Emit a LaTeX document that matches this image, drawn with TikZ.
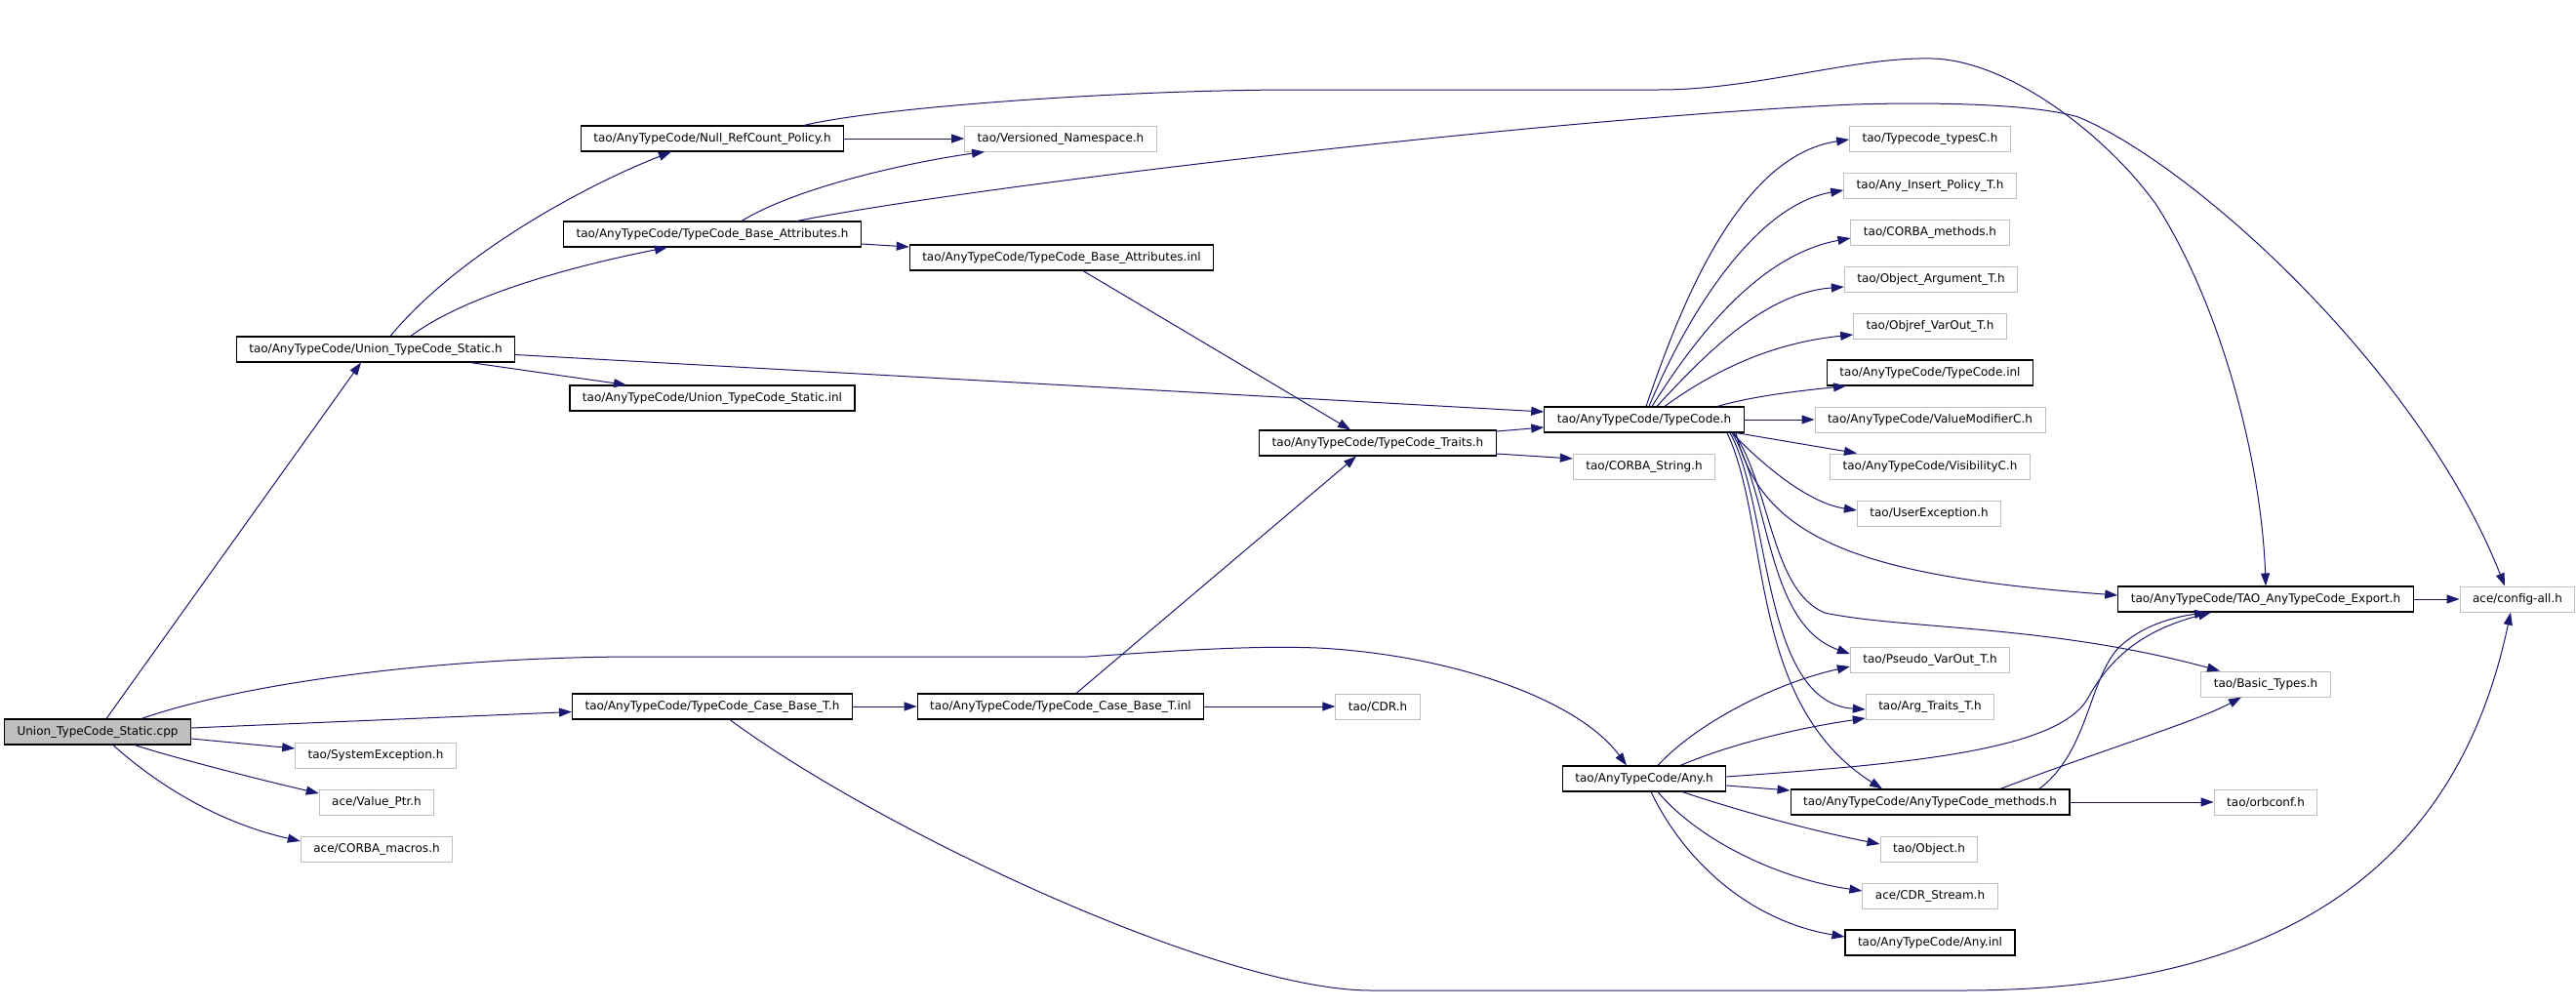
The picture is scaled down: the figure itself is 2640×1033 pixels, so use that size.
\documentclass[tikz,border=0pt]{standalone}
\usepackage{fontspec}
\setmainfont{DejaVu Sans}
\usetikzlibrary{arrows.meta}
\definecolor{edgeblue}{HTML}{191970}
\definecolor{graybox}{HTML}{BFBFBF}
\begin{document}
\begin{tikzpicture}[x=1pt,y=-1pt,
  every node/.style={font=\fontsize{12}{13}\selectfont},
  doc/.style={draw=black,line width=1.1pt,rectangle,minimum height=26pt,inner xsep=13pt,inner ysep=0pt,fill=white},
  undoc/.style={doc,draw=graybox,line width=1pt},
  root/.style={doc,fill=graybox},
  dep/.style={draw=edgeblue,line width=1pt,-{Triangle[length=13pt,width=9pt]}}]
\useasboundingbox[fill=white] (0,0) rectangle (2640,1033);

% nodes
\node[root]  (cpp)         at (100,750) {Union\_TypeCode\_Static.cpp};
\node[doc]   (unionh)      at (385,358) {tao/AnyTypeCode/Union\_TypeCode\_Static.h};
\node[doc]   (nullrc)      at (730,142) {tao/AnyTypeCode/Null\_RefCount\_Policy.h};
\node[doc]   (baseattr)    at (730,240) {tao/AnyTypeCode/TypeCode\_Base\_Attributes.h};
\node[doc]   (unioninl)    at (730,408) {tao/AnyTypeCode/Union\_TypeCode\_Static.inl};
\node[doc]   (casebase)    at (730,724) {tao/AnyTypeCode/TypeCode\_Case\_Base\_T.h};
\node[undoc] (sysexc)      at (385,774) {tao/SystemException.h};
\node[undoc] (valueptr)    at (386,822) {ace/Value\_Ptr.h};
\node[undoc] (corbamacros) at (386,870) {ace/CORBA\_macros.h};
\node[undoc] (versioned)   at (1087,142) {tao/Versioned\_Namespace.h};
\node[doc]   (baseattrinl) at (1088,264) {tao/AnyTypeCode/TypeCode\_Base\_Attributes.inl};
\node[doc]   (casebaseinl) at (1087,724) {tao/AnyTypeCode/TypeCode\_Case\_Base\_T.inl};
\node[doc]   (traits)      at (1412,454) {tao/AnyTypeCode/TypeCode\_Traits.h};
\node[undoc] (cdr)         at (1412,724) {tao/CDR.h};
\node[doc]   (typecode)    at (1685,430) {tao/AnyTypeCode/TypeCode.h};
\node[undoc] (corbastring) at (1685,478) {tao/CORBA\_String.h};
\node[doc]   (anyh)        at (1685,798) {tao/AnyTypeCode/Any.h};
\node[undoc] (typesC)      at (1978,142) {tao/Typecode\_typesC.h};
\node[undoc] (anyinsert)   at (1978,190) {tao/Any\_Insert\_Policy\_T.h};
\node[undoc] (corbamethods) at (1978,238) {tao/CORBA\_methods.h};
\node[undoc] (objarg)      at (1979,286) {tao/Object\_Argument\_T.h};
\node[undoc] (objref)      at (1978,334) {tao/Objref\_VarOut\_T.h};
\node[doc]   (tcinl)       at (1978,382) {tao/AnyTypeCode/TypeCode.inl};
\node[undoc] (valuemod)    at (1978,430) {tao/AnyTypeCode/ValueModifierC.h};
\node[undoc] (visib)       at (1978,478) {tao/AnyTypeCode/VisibilityC.h};
\node[undoc] (userexc)     at (1977,526) {tao/UserException.h};
\node[undoc] (pseudo)      at (1978,676) {tao/Pseudo\_VarOut\_T.h};
\node[undoc] (argtraits)   at (1978,724) {tao/Arg\_Traits\_T.h};
\node[doc]   (methods)     at (1978,822) {tao/AnyTypeCode/AnyTypeCode\_methods.h};
\node[undoc] (objecth)     at (1977,870) {tao/Object.h};
\node[undoc] (cdrstream)   at (1978,918) {ace/CDR\_Stream.h};
\node[doc]   (anyinl)      at (1978,966) {tao/AnyTypeCode/Any.inl};
\node[doc]   (export)      at (2322,614) {tao/AnyTypeCode/TAO\_AnyTypeCode\_Export.h};
\node[undoc] (basictypes)  at (2322,701) {tao/Basic\_Types.h};
\node[undoc] (orbconf)     at (2322,822) {tao/orbconf.h};
\node[undoc] (configall)   at (2580,614) {ace/config-all.h};

% edges from the .cpp
\draw[dep] ([xshift=9pt]cpp.north) -- ([xshift=-15pt]unionh.south);
\draw[dep] ([yshift=4pt]cpp.east) -- ([yshift=-5.5pt]casebase.west);
\draw[dep] ([yshift=-7pt]cpp.east) -- ([yshift=7pt]sysexc.west);
\draw[dep] ([xshift=38pt]cpp.south) .. controls (180,777) and (270,800) .. ([yshift=9pt]valueptr.west);
\draw[dep] ([xshift=16pt]cpp.south) .. controls (145,790) and (210,840) .. ([yshift=8pt]corbamacros.west);
\draw[dep] ([xshift=45pt]cpp.north) .. controls (250,700) and (450,673) .. (656,673) -- (1114,673)
   .. controls (1200,667) and (1300,660) .. (1367,665) .. controls (1500,675) and (1620,720) .. ([xshift=-18pt]anyh.north);

% Union_TypeCode_Static.h
\draw[dep] ([xshift=15pt]unionh.north) .. controls (470,260) and (600,190) .. ([xshift=-42pt]nullrc.south);
\draw[dep] ([xshift=36pt]unionh.north) .. controls (480,300) and (600,270) .. ([xshift=-46pt]baseattr.south);
\draw[dep] ([xshift=97pt]unionh.south) -- ([xshift=-88pt]unioninl.north);
\draw[dep] ([yshift=-5.5pt]unionh.east) -- ([yshift=8pt]typecode.west);

% Null_RefCount_Policy.h
\draw[dep] (nullrc.east) -- (versioned.west);
\draw[dep] ([xshift=94pt]nullrc.north) .. controls (900,110) and (1150,92) .. (1330,92) -- (1700,92)
   .. controls (1800,92) and (1900,58) .. (1980,60) .. controls (2060,62) and (2160,140) .. (2210,210)
   .. controls (2280,320) and (2318,480) .. (export.north);

% TypeCode_Base_Attributes.h
\draw[dep] ([xshift=30pt]baseattr.north) .. controls (820,190) and (940,165) .. ([xshift=-78pt]versioned.south);
\draw[dep] ([xshift=87pt]baseattr.north) .. controls (1000,190) and (1600,120) .. (1900,107)
   .. controls (2000,104) and (2090,108) .. (2130,120) .. controls (2250,170) and (2480,380) .. ([xshift=-13pt]configall.north);
\draw[dep] ([yshift=-10pt]baseattr.east) -- ([yshift=11pt]baseattrinl.west);
\draw[dep] ([xshift=22pt]baseattrinl.south) -- ([xshift=-28pt]traits.north);

% TypeCode_Case_Base_T.h
\draw[dep] (casebase.east) -- (casebaseinl.west);
\draw[dep] ([xshift=18pt]casebase.south) .. controls (900,850) and (1250,1015) .. (1405,1015) -- (2011,1015)
   .. controls (2350,1015) and (2520,880) .. ([xshift=-7pt]configall.south);
\draw[dep] ([xshift=16pt]casebaseinl.north) -- ([xshift=-22pt]traits.south);
\draw[dep] (casebaseinl.east) -- (cdr.west);

% TypeCode_Traits.h
\draw[dep] ([yshift=12pt]traits.east) -- ([yshift=-8pt]typecode.west);
\draw[dep] ([yshift=-11pt]traits.east) -- ([yshift=8pt]corbastring.west);

% TypeCode.h
\draw[dep] ([xshift=2pt]typecode.north) .. controls (1720,320) and (1780,160) .. ([yshift=-1pt]typesC.west);
\draw[dep] ([xshift=5pt]typecode.north) .. controls (1730,320) and (1800,210) .. ([yshift=-5pt]anyinsert.west);
\draw[dep] ([xshift=8pt]typecode.north) .. controls (1735,350) and (1800,262) .. ([yshift=-6pt]corbamethods.west);
\draw[dep] ([xshift=13pt]typecode.north) .. controls (1750,360) and (1810,300) .. ([yshift=-8pt]objarg.west);
\draw[dep] ([xshift=21pt]typecode.north) .. controls (1770,370) and (1830,350) .. ([yshift=-9pt]objref.west);
\draw[dep] ([xshift=75pt]typecode.north) .. controls (1800,405) and (1850,400) .. ([xshift=-86pt]tcinl.south);
\draw[dep] (typecode.east) -- (valuemod.west);
\draw[dep] ([xshift=94pt]typecode.south) -- ([xshift=-75pt]visib.north);
\draw[dep] ([xshift=90pt]typecode.south) .. controls (1800,470) and (1850,515) .. ([yshift=3pt]userexc.west);
\draw[dep] ([xshift=94pt]typecode.south) .. controls (1805,550) and (1900,590) .. ([yshift=4pt]export.west);
\draw[dep] ([xshift=92pt]typecode.south) .. controls (1815,500) and (1815,605) .. (1870,628)
   .. controls (1950,645) and (2100,640) .. ([xshift=-47pt]basictypes.north);
\draw[dep] ([xshift=90pt]typecode.south) .. controls (1815,510) and (1810,640) .. ([yshift=6pt]pseudo.west);
\draw[dep] ([xshift=88pt]typecode.south) .. controls (1815,520) and (1805,720) .. ([yshift=-3pt]argtraits.west);
\draw[dep] ([xshift=85pt]typecode.south) .. controls (1815,540) and (1790,720) .. ([xshift=-49pt]methods.north);

% Any.h
\draw[dep] ([xshift=14pt]anyh.north) .. controls (1740,740) and (1820,700) .. ([yshift=-7pt]pseudo.west);
\draw[dep] ([xshift=37pt]anyh.north) .. controls (1780,760) and (1850,745) .. ([yshift=-12pt]argtraits.west);
\draw[dep] ([yshift=2pt]anyh.east) .. controls (1950,783) and (2110,770) .. (2140,715)
   .. controls (2165,670) and (2200,645) .. ([xshift=-56pt]export.south);
\draw[dep] ([yshift=-7pt]anyh.east) -- ([yshift=12pt]methods.west);
\draw[dep] ([xshift=39pt]anyh.south) .. controls (1780,830) and (1850,850) .. ([yshift=5pt]objecth.west);
\draw[dep] ([xshift=14pt]anyh.south) .. controls (1740,860) and (1820,900) .. ([yshift=5pt]cdrstream.west);
\draw[dep] ([xshift=7pt]anyh.south) .. controls (1730,890) and (1800,945) .. ([yshift=6pt]anyinl.west);

% AnyTypeCode_methods.h
\draw[dep] ([xshift=112pt]methods.north) .. controls (2140,770) and (2140,700) .. (2170,665)
   .. controls (2195,640) and (2230,632) .. ([xshift=-60pt]export.south);
\draw[dep] ([xshift=72pt]methods.north) .. controls (2150,770) and (2250,740) .. ([xshift=-25pt]basictypes.south);
\draw[dep] (methods.east) -- (orbconf.west);

% TAO_AnyTypeCode_Export.h
\draw[dep] (export.east) -- (configall.west);
\end{tikzpicture}
\end{document}
